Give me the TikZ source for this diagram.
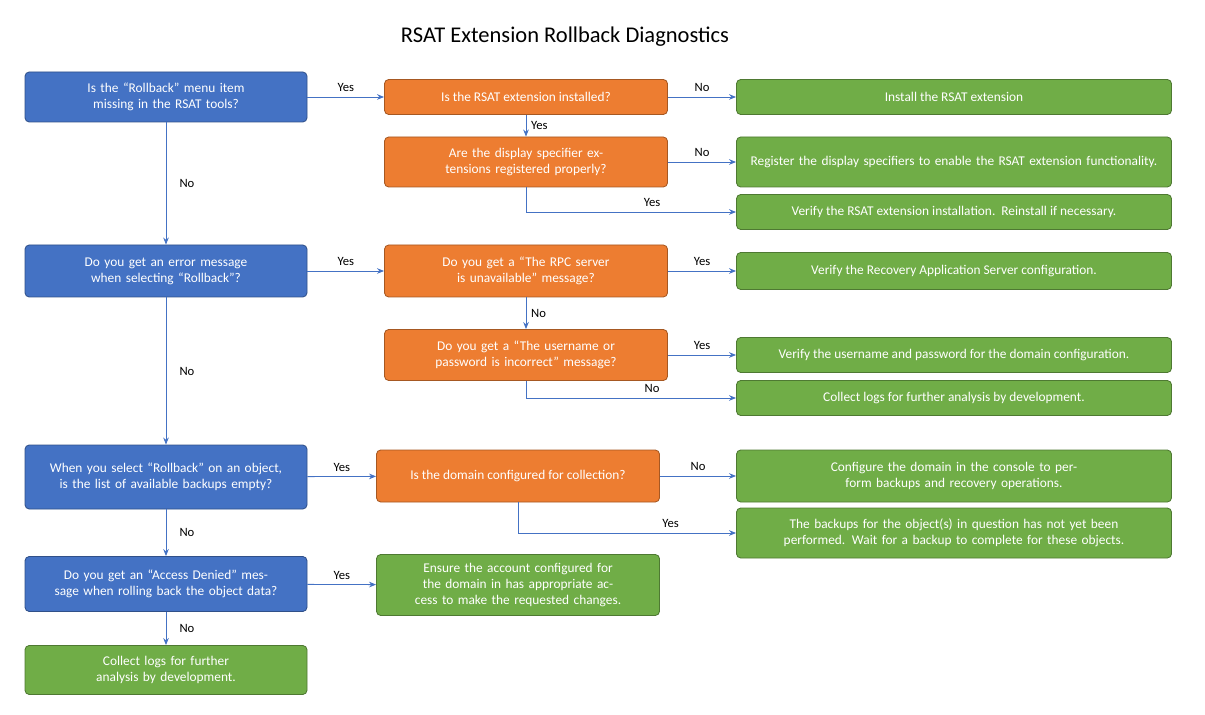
\documentclass[tikz,border=0pt]{standalone}
\usepackage{fontspec}
\setmainfont{Carlito}
\usetikzlibrary{arrows.meta}
\definecolor{qblue}{HTML}{4472C4}
\definecolor{qorange}{HTML}{ED7D31}
\definecolor{qgreen}{HTML}{70AD47}
\tikzset{
  box/.style={draw, rounded corners=3pt, text=white, align=center, font=\fontsize{9.5}{11.5}\selectfont, inner sep=2pt},
  question/.style={box, fill=qblue, draw=qblue!70!black, minimum width=282*0.025cm},
  check/.style={box, fill=qorange, draw=qorange!70!black, minimum width=283*0.025cm},
  action/.style={box, fill=qgreen, draw=qgreen!70!black, minimum width=435*0.025cm},
  lbl/.style={font=\fontsize{9}{11}\selectfont, text=black},
}
\begin{document}
\begin{tikzpicture}
  [x=0.025cm, y=-0.025cm, -{Stealth[length=5pt,width=4pt]}, draw=qblue, line width=0.6pt]
  \useasboundingbox (0,0) rectangle (1205,715);

  % Titel
  \node[font=\fontsize{16}{19}\selectfont] (title) at (565,37) {RSAT Extension Rollback Diagnostics};

  % Fragen links
  \node[question, minimum height=50*0.025cm, text width=270*0.025cm] (menu) at (166,97) {Is the “Rollback” menu item missing in the RSAT tools?};
  \node[question, minimum height=52*0.025cm, text width=270*0.025cm] (error) at (166,271) {Do you get an error message when selecting “Rollback”?};
  \node[question, minimum height=64*0.025cm, text width=270*0.025cm] (empty) at (166,477) {When you select “Rollback” on an object, is the list of available backups empty?};
  \node[question, minimum height=55*0.025cm, text width=270*0.025cm] (denied) at (166,584) {Do you get an “Access Denied” message when rolling back the object data?};
  \node[action, minimum width=282*0.025cm, minimum height=49*0.025cm, text width=270*0.025cm] (logsA) at (166,670) {Collect logs for further analysis by development.};

  % Pruefungen Mitte
  \node[check, minimum height=35*0.025cm] (installed) at (526,97) {Is the RSAT extension installed?};
  \node[check, minimum height=50*0.025cm, text width=270*0.025cm] (specifier) at (526,162) {Are the display specifier extensions registered properly?};
  \node[check, minimum height=52*0.025cm, text width=270*0.025cm] (rpc) at (526,271) {Do you get a “The RPC server is unavailable” message?};
  \node[check, minimum height=51*0.025cm, text width=270*0.025cm] (password) at (526,355) {Do you get a “The username or password is incorrect” message?};
  \node[check, minimum height=52*0.025cm] (domain) at (518,476) {Is the domain configured for collection?};
  \node[action, minimum width=283*0.025cm, minimum height=61*0.025cm, text width=270*0.025cm] (access) at (518,585) {Ensure the account configured for the domain in has appropriate access to make the requested changes.};

  % Aktionen rechts
  \node[action, minimum height=35*0.025cm] (install) at (954,97) {Install the RSAT extension};
  \node[action, minimum height=50*0.025cm, text width=420*0.025cm] (register) at (954,162) {Register the display specifiers to enable the RSAT extension functionality.};
  \node[action, minimum height=35*0.025cm] (verify) at (954,212) {Verify the RSAT extension installation.\ \ Reinstall if necessary.};
  \node[action, minimum height=37*0.025cm] (server) at (954,271) {Verify the Recovery Application Server configuration.};
  \node[action, minimum height=35*0.025cm] (user) at (954,355) {Verify the username and password for the domain configuration.};
  \node[action, minimum height=35*0.025cm] (logsB) at (954,398) {Collect logs for further analysis by development.};
  \node[action, minimum height=52*0.025cm, text width=420*0.025cm] (configure) at (954,476) {Configure the domain in the console to perform backups and recovery operations.};
  \node[action, minimum height=50*0.025cm, text width=420*0.025cm] (backups) at (954,533) {The backups for the object(s) in question has not yet been performed. Wait for a backup to complete for these objects.};

  % Verbindungen
  \draw (menu) -- (installed) node[lbl, midway, above] {Yes};
  \draw (menu) -- (error) node[lbl, midway, right=6pt] {No};
  \draw (installed) -- (install) node[lbl, midway, above] {No};
  \draw (installed) -- (specifier) node[lbl, midway, right] {Yes};
  \draw (specifier) -- (register) node[lbl, midway, above] {No};
  \draw (specifier.south) |- (verify) node[lbl, pos=0.8, above] {Yes};

  \draw (error) -- (rpc) node[lbl, midway, above] {Yes};
  \draw (error) -- (empty) node[lbl, midway, right=6pt] {No};
  \draw (rpc) -- (server) node[lbl, midway, above] {Yes};
  \draw (rpc) -- (password) node[lbl, midway, right] {No};
  \draw (password) -- (user) node[lbl, midway, above] {Yes};
  \draw (password.south) |- (logsB) node[lbl, pos=0.8, above] {No};

  \draw (empty) -- (domain) node[lbl, midway, above] {Yes};
  \draw (empty) -- (denied) node[lbl, midway, right=6pt] {No};
  \draw (domain) -- (configure) node[lbl, midway, above] {No};
  \draw (domain.south) |- (backups) node[lbl, pos=0.85, above] {Yes};

  \draw (denied) -- (access) node[lbl, midway, above] {Yes};
  \draw (denied) -- (logsA) node[lbl, midway, right=6pt] {No};
\end{tikzpicture}
\end{document}
